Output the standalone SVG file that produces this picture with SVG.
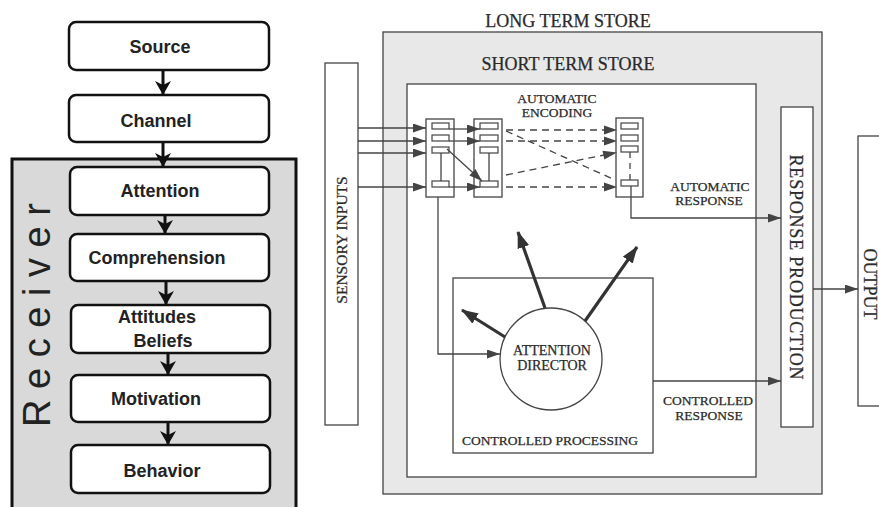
<svg xmlns="http://www.w3.org/2000/svg" width="879" height="507" viewBox="0 0 879 507">
  <style>
    .node { fill: #ffffff; stroke: #111111; stroke-width: 2.5; }
    .lbl { font-family: "Liberation Sans", Arial, sans-serif; font-weight: bold; font-size: 18px; fill: #222222; text-anchor: middle; }
    .flow { stroke: #111111; stroke-width: 3; fill: none; marker-end: url(#chev); }
    .box { fill: #ffffff; stroke: #444444; stroke-width: 1.3; }
    .cell { fill: #ffffff; stroke: #444444; stroke-width: 1.2; }
    .ser { font-family: "Liberation Serif", "Times New Roman", serif; fill: #2a2a2a; text-anchor: middle; stroke: #2a2a2a; stroke-width: 0.25; }
    .wire { stroke: #444444; stroke-width: 1.3; fill: none; }
    .arr { stroke: #444444; stroke-width: 1.3; fill: none; marker-end: url(#ah); }
    .dash { stroke: #444444; stroke-width: 1.3; fill: none; stroke-dasharray: 7 5; }
    .thick { stroke: #333333; stroke-width: 3.2; fill: none; marker-end: url(#ahT); }
  </style>
  <defs>
    <marker id="chev" markerUnits="userSpaceOnUse" markerWidth="16" markerHeight="16" refX="14" refY="8" orient="auto">
      <path d="M0,0 L14,8 L0,16 L4,8 z" fill="#111111"/>
    </marker>
    <marker id="ah" markerUnits="userSpaceOnUse" markerWidth="13" markerHeight="9" refX="13" refY="4.5" orient="auto">
      <path d="M0,0 L13,4.5 L0,9 z" fill="#444444"/>
    </marker>
    <marker id="ahT" markerUnits="userSpaceOnUse" markerWidth="17" markerHeight="12" refX="16" refY="6" orient="auto">
      <path d="M0,0 L17,6 L0,12 z" fill="#333333"/>
    </marker>
  </defs>

  <!-- ===== Left: communication chain ===== -->
  <g id="receiver">
    <rect x="12" y="159" width="284" height="360" fill="#d9d9d9" stroke="#111111" stroke-width="3"/>
    <text transform="translate(50,427) rotate(-90)" font-family="'Liberation Sans', Arial, sans-serif" font-size="38" fill="#222222" textLength="224" lengthAdjust="spacing">Receiver</text>
  </g>

  <g id="left-connectors">
    <line class="flow" x1="163" y1="70" x2="163" y2="95"/>
    <line class="flow" x1="163" y1="142" x2="163" y2="167"/>
    <line class="flow" x1="165" y1="215" x2="165" y2="234"/>
    <line class="flow" x1="166" y1="281" x2="166" y2="305"/>
    <line class="flow" x1="168" y1="353" x2="168" y2="375"/>
    <line class="flow" x1="168" y1="422" x2="168" y2="445"/>
  </g>

  <g id="source">
    <rect class="node" x="69" y="22" width="200" height="48" rx="7"/>
    <text class="lbl" x="160" y="53">Source</text>
  </g>
  <g id="channel">
    <rect class="node" x="69" y="95" width="200" height="47" rx="7"/>
    <text class="lbl" x="156" y="127">Channel</text>
  </g>
  <g id="attention">
    <rect class="node" x="70" y="167" width="199" height="48" rx="7"/>
    <text class="lbl" x="160" y="197">Attention</text>
  </g>
  <g id="comprehension">
    <rect class="node" x="70" y="234" width="199" height="47" rx="7"/>
    <text class="lbl" x="157" y="264">Comprehension</text>
  </g>
  <g id="attitudes">
    <rect class="node" x="71" y="305" width="199" height="48" rx="7"/>
    <text class="lbl" x="157" y="323">Attitudes</text>
    <text class="lbl" x="163" y="347">Beliefs</text>
  </g>
  <g id="motivation">
    <rect class="node" x="71" y="375" width="199" height="47" rx="7"/>
    <text class="lbl" x="156" y="405">Motivation</text>
  </g>
  <g id="behavior">
    <rect class="node" x="71" y="445" width="199" height="48" rx="7"/>
    <text class="lbl" x="162" y="477">Behavior</text>
  </g>

  <!-- ===== Right: information processing model ===== -->
  <g id="long-term-store">
    <text class="ser" x="568" y="27" font-size="18">LONG TERM STORE</text>
    <rect x="383" y="32" width="439" height="462" fill="#e8e8e8" stroke="#444444" stroke-width="1.3"/>
  </g>
  <g id="short-term-store">
    <text class="ser" x="568" y="70" font-size="18">SHORT TERM STORE</text>
    <rect class="box" x="407" y="84" width="349" height="393"/>
  </g>

  <g id="sensory-inputs">
    <rect class="box" x="325" y="63" width="33" height="362"/>
    <text class="ser" transform="translate(347,240) rotate(-90)" font-size="15.5">SENSORY INPUTS</text>
  </g>

  <g id="response-production">
    <rect class="box" x="781" y="107" width="32" height="320"/>
    <text class="ser" transform="translate(790,267) rotate(90)" font-size="18" textLength="225" lengthAdjust="spacing">RESPONSE  PRODUCTION</text>
  </g>

  <g id="output">
    <rect class="box" x="858" y="136" width="30" height="270"/>
    <text class="ser" transform="translate(864,284) rotate(90)" font-size="18">OUTPUT</text>
  </g>

  <g id="encoding-label">
    <text class="ser" x="557" y="103" font-size="13.5">AUTOMATIC</text>
    <text class="ser" x="557" y="117" font-size="13.5">ENCODING</text>
  </g>

  <g id="stack-1">
    <rect class="box" x="426" y="119" width="28" height="78"/>
    <rect class="cell" x="432" y="123" width="17" height="6"/>
    <rect class="cell" x="432" y="135" width="17" height="6"/>
    <rect class="cell" x="432" y="147" width="17" height="6"/>
    <rect class="cell" x="432" y="181" width="17" height="6"/>
    <line class="wire" x1="441" y1="153" x2="441" y2="181"/>
  </g>
  <g id="stack-2">
    <rect class="box" x="474" y="119" width="28" height="78"/>
    <rect class="cell" x="480" y="123" width="18" height="6"/>
    <rect class="cell" x="480" y="135" width="18" height="6"/>
    <rect class="cell" x="480" y="147" width="18" height="6"/>
    <rect class="cell" x="480" y="181" width="18" height="6"/>
    <line class="wire" x1="489" y1="153" x2="489" y2="181"/>
  </g>
  <g id="stack-3">
    <rect class="box" x="616" y="118" width="27" height="79"/>
    <rect class="cell" x="621" y="123" width="17" height="6"/>
    <rect class="cell" x="621" y="135" width="17" height="6"/>
    <rect class="cell" x="621" y="146" width="17" height="6"/>
    <rect class="cell" x="621" y="180" width="17" height="6"/>
    <line class="wire" x1="630" y1="152" x2="630" y2="180" stroke-dasharray="6 5"/>
  </g>

  <g id="response-labels">
    <text class="ser" x="710" y="191" font-size="13.5">AUTOMATIC</text>
    <text class="ser" x="709" y="205" font-size="13.5">RESPONSE</text>
    <text class="ser" x="708" y="405" font-size="13.5">CONTROLLED</text>
    <text class="ser" x="709" y="420" font-size="13.5">RESPONSE</text>
  </g>

  <g id="controlled-processing">
    <rect class="box" x="453" y="278" width="200" height="175"/>
    <text class="ser" x="550" y="445" font-size="13.5">CONTROLLED PROCESSING</text>
  </g>

  <g id="attention-director">
    <circle cx="551" cy="359" r="51" fill="#ffffff" stroke="#444444" stroke-width="1.3"/>
    <text class="ser" x="552" y="355" font-size="14">ATTENTION</text>
    <text class="ser" x="552" y="370" font-size="14">DIRECTOR</text>
  </g>

  <g id="connectors">
    <!-- sensory inputs into first stack -->
    <line class="arr" x1="358" y1="128" x2="426" y2="128"/>
    <line class="arr" x1="358" y1="141" x2="426" y2="141"/>
    <line class="arr" x1="358" y1="153" x2="426" y2="153"/>
    <line class="arr" x1="358" y1="187" x2="426" y2="187"/>
    <!-- first stack to second stack -->
    <line class="arr" x1="449" y1="129" x2="480" y2="129"/>
    <line class="arr" x1="449" y1="141" x2="480" y2="141"/>
    <line class="arr" x1="449" y1="187" x2="480" y2="187"/>
    <line class="arr" x1="447" y1="149" x2="482" y2="181"/>
    <!-- automatic encoding (dashed) -->
    <line class="dash" x1="506" y1="130" x2="604" y2="130"/>
    <path d="M604,125.5 L617,130 L604,134.5 z" fill="#444444"/>
    <line class="dash" x1="506" y1="141" x2="604" y2="141"/>
    <path d="M604,136.5 L617,141 L604,145.5 z" fill="#444444"/>
    <line class="dash" x1="506" y1="175" x2="604" y2="155"/>
    <path d="M602.5,150.7 L617,152.5 L604.3,159.5 z" fill="#444444"/>
    <line class="dash" x1="506" y1="187" x2="604" y2="187"/>
    <path d="M604,182.5 L617,187 L604,191.5 z" fill="#444444"/>
    <line class="dash" x1="506" y1="131" x2="613" y2="179"/>
    <!-- automatic response -->
    <polyline class="arr" points="631,186 631,218 781,218"/>
    <!-- first stack to attention director -->
    <polyline class="arr" points="438,197 438,354 500,354"/>
    <!-- controlled response -->
    <line class="arr" x1="653" y1="381" x2="781" y2="381"/>
    <!-- response production to output -->
    <line class="arr" x1="813" y1="289" x2="858" y2="289"/>
    <!-- attention allocation -->
    <line class="thick" x1="545" y1="308" x2="518" y2="232"/>
    <line class="thick" x1="585" y1="321" x2="637" y2="247"/>
    <line class="thick" x1="505" y1="337" x2="462" y2="310"/>
  </g>
</svg>
